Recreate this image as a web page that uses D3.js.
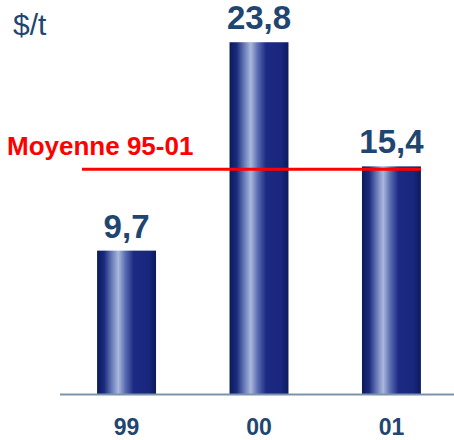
<!DOCTYPE html>
<html>
<head>
<meta charset="utf-8">
<script src="https://cdnjs.cloudflare.com/ajax/libs/d3/7.8.5/d3.min.js"></script>
<style>
  body { margin: 0; background: #fff; }
  text { font-family: "Liberation Sans", Arial, sans-serif; }
</style>
</head>
<body>
<div id="chart"></div>
<script>
var categories = ["99", "00", "01"];
var values = [9.7, 23.8, 15.4];
var valueLabels = ["9,7", "23,8", "15,4"];
var average = 15.2;
var averageLabel = "Moyenne 95-01";
var unitLabel = "$/t";

var width = 454;
var height = 440;
var baseY = 394;

var svg = d3.select("#chart")
    .append("svg")
    .attr("width", width)
    .attr("height", height);

// bar gradient: dark edges, light streak left of centre
var defs = svg.append("defs");
var grad = defs.append("linearGradient")
    .attr("id", "barGrad")
    .attr("x1", "0%").attr("x2", "100%")
    .attr("y1", "0%").attr("y2", "0%");
grad.append("stop").attr("offset", "0%").attr("stop-color", "#0b1a5a");
grad.append("stop").attr("offset", "12%").attr("stop-color", "#1a2a7c");
grad.append("stop").attr("offset", "26%").attr("stop-color", "#6e80bc");
grad.append("stop").attr("offset", "36%").attr("stop-color", "#aab8dc");
grad.append("stop").attr("offset", "48%").attr("stop-color", "#5a6cb0");
grad.append("stop").attr("offset", "62%").attr("stop-color", "#1c2a84");
grad.append("stop").attr("offset", "88%").attr("stop-color", "#18267c");
grad.append("stop").attr("offset", "100%").attr("stop-color", "#0c1a5c");

var x = d3.scaleBand()
    .domain(categories)
    .range([60, 458])
    .paddingInner(0.555)
    .paddingOuter(0.28);

var y = d3.scaleLinear()
    .domain([0, 25])
    .range([baseY, baseY - 14.78 * 25]);

// unit
svg.append("text")
    .attr("x", 13)
    .attr("y", 35)
    .text(unitLabel)
    .style("font-size", "30px")
    .style("fill", "#1f4571");

// bars
svg.selectAll(".bar")
    .data(values)
    .enter()
    .append("rect")
    .attr("class", "bar")
    .attr("x", function(d, i) {return x(categories[i]);})
    .attr("y", function(d) {return y(d);})
    .attr("width", x.bandwidth())
    .attr("height", function(d) {return baseY - y(d);})
    .attr("fill", "url(#barGrad)");

// axis line
svg.append("line")
    .attr("x1", 60).attr("x2", width)
    .attr("y1", baseY + 0.5).attr("y2", baseY + 0.5)
    .attr("stroke", "#7d93ad")
    .attr("stroke-width", 2);

// value labels
svg.selectAll(".val")
    .data(values)
    .enter()
    .append("text")
    .attr("class", "val")
    .attr("x", function(d, i) {return x(categories[i]) + x.bandwidth() / 2;})
    .attr("y", function(d) {return y(d) - 13;})
    .attr("text-anchor", "middle")
    .text(function(d, i) {return valueLabels[i];})
    .style("font-size", "33px")
    .style("font-weight", "bold")
    .style("fill", "#1f4571");

// category labels
svg.selectAll(".cat")
    .data(categories)
    .enter()
    .append("text")
    .attr("class", "cat")
    .attr("x", function(d) {return x(d) + x.bandwidth() / 2;})
    .attr("y", 435)
    .attr("text-anchor", "middle")
    .text(function(d) {return d;})
    .style("font-size", "23px")
    .style("font-weight", "bold")
    .style("fill", "#1f4571");

// average line
svg.append("line")
    .attr("x1", 82)
    .attr("x2", x(categories[2]) + x.bandwidth())
    .attr("y1", y(average))
    .attr("y2", y(average))
    .attr("stroke", "#ff0000")
    .attr("stroke-width", 3);

svg.append("text")
    .attr("x", 7)
    .attr("y", 155)
    .text(averageLabel)
    .style("font-size", "26px")
    .style("font-weight", "bold")
    .style("fill", "#ff0000");
</script>
</body>
</html>
